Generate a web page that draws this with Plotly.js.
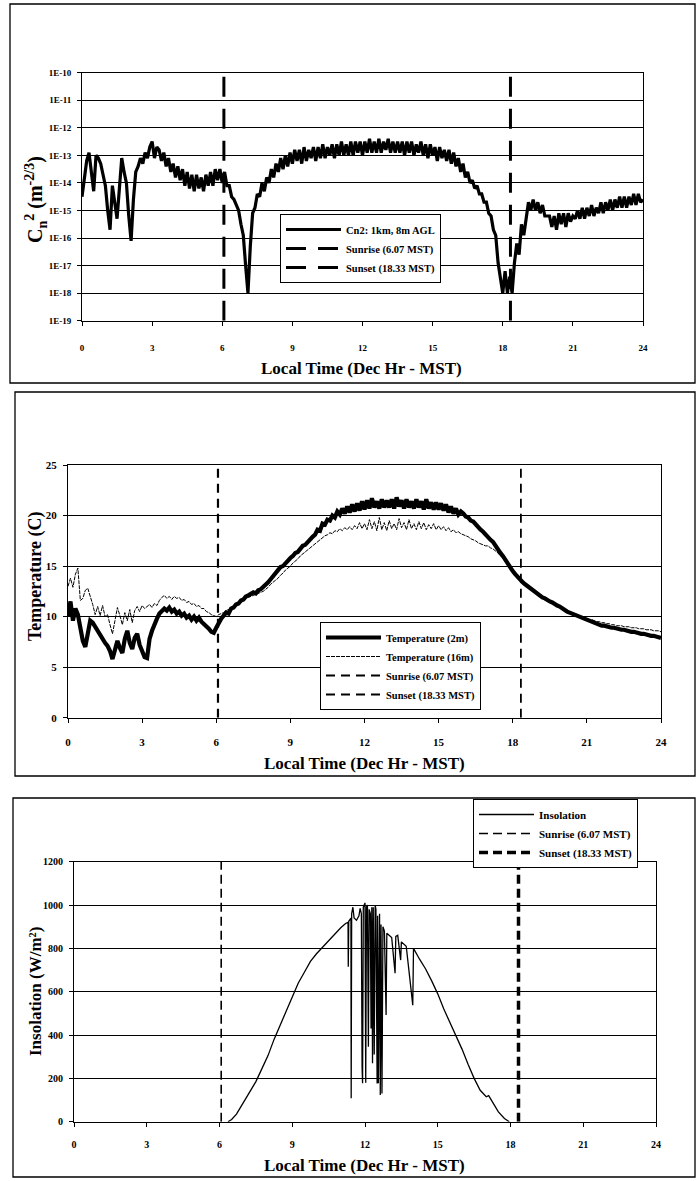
<!DOCTYPE html>
<html>
<head>
<meta charset="utf-8">
<script src="https://cdn.plot.ly/plotly-3.0.1.min.js"></script>
<style>html,body{margin:0;padding:0;background:#fff;}#chart{width:696px;height:1181px;}</style>
</head>
<body>
<div id="chart"></div>
<script>
// ---------- DATA ----------
const tickHours = [0, 3, 6, 9, 12, 15, 18, 21, 24];
const sunrise = 6.07;
const sunset = 18.33;
const timeStep = 0.1; // hours between samples of the 0..24 h series below

// Panel 1: Cn2 as log10 exponent (1E-x), every 0.1 h
const cn2Exp = [
-14.5,-13.8,-13.2,-12.9,-13.6,-14.3,-13.0,-13.1,-13.3,-13.7,
-14.1,-15.0,-15.7,-14.1,-14.8,-15.3,-14.2,-13.1,-13.6,-14.0,
-15.2,-16.1,-14.6,-13.6,-13.4,-13.1,-13.3,-12.9,-13.1,-12.7,
-12.5,-13.1,-12.7,-12.8,-13.2,-12.9,-13.4,-13.1,-13.6,-13.3,
-13.8,-13.4,-13.9,-13.5,-14.1,-13.6,-14.2,-13.7,-14.3,-13.7,
-14.2,-13.8,-14.3,-13.7,-14.1,-13.6,-14.1,-13.5,-13.9,-13.5,
-14.0,-13.6,-14.1,-14.1,-14.5,-14.6,-14.8,-15.0,-15.5,-15.9,
-17.0,-18.0,-16.3,-15.1,-14.9,-14.4,-14.5,-14.0,-14.3,-13.8,
-14.0,-13.5,-13.8,-13.3,-13.6,-13.1,-13.5,-13.0,-13.4,-12.9,
-13.3,-12.8,-13.2,-12.8,-13.3,-12.7,-13.2,-12.8,-13.1,-12.7,
-13.2,-12.7,-13.1,-12.6,-13.1,-12.7,-13.0,-12.6,-13.1,-12.6,
-13.0,-12.5,-13.0,-12.6,-13.0,-12.5,-13.0,-12.5,-12.9,-12.5,
-13.0,-12.5,-12.9,-12.4,-12.9,-12.5,-12.9,-12.4,-12.9,-12.5,
-12.8,-12.4,-12.9,-12.5,-12.9,-12.5,-12.9,-12.5,-13.0,-12.5,
-12.9,-12.5,-13.0,-12.6,-12.9,-12.5,-13.0,-12.6,-13.1,-12.6,
-13.0,-12.7,-13.2,-12.7,-13.1,-12.8,-13.2,-12.8,-13.3,-12.9,
-13.4,-13.1,-13.6,-13.3,-13.8,-13.6,-14.0,-13.9,-14.2,-14.1,
-14.4,-14.4,-14.7,-14.7,-15.1,-15.2,-15.7,-15.9,-16.9,-17.5,
-18.0,-17.2,-18.0,-17.4,-18.0,-16.9,-16.2,-16.6,-15.5,-15.9,
-15.2,-14.7,-15.0,-14.6,-15.0,-14.7,-15.1,-14.8,-15.2,-15.2,
-15.2,-15.6,-15.2,-15.7,-15.1,-15.5,-15.1,-15.6,-15.1,-15.4,
-15.2,-15.3,-15.0,-15.3,-14.9,-15.3,-14.9,-15.2,-14.8,-15.2,
-14.9,-15.1,-14.7,-15.1,-14.7,-15.0,-14.6,-15.0,-14.6,-14.9,
-14.5,-14.9,-14.5,-14.9,-14.5,-14.8,-14.4,-14.8,-14.4,-14.7,
-14.6];
const cn2TickVals = [-19, -18, -17, -16, -15, -14, -13, -12, -11, -10];
const cn2TickText = ["1E-19","1E-18","1E-17","1E-16","1E-15","1E-14","1E-13","1E-12","1E-11","1E-10"];

// Panel 2: temperature (C), every 0.1 h
const temp2m = [
10.0,11.5,9.6,10.8,10.2,8.8,7.6,7.0,8.2,9.6,
9.4,9.0,8.5,8.1,7.8,7.4,7.1,6.6,5.8,6.8,
7.6,6.9,6.4,7.8,8.6,7.4,6.8,7.9,8.3,7.2,
6.6,6.0,5.9,7.8,8.6,9.3,9.8,10.3,10.5,10.8,
10.6,10.9,10.5,10.7,10.3,10.5,10.1,10.3,9.9,10.1,
9.7,10.0,9.6,9.9,9.5,9.3,9.1,8.8,8.5,8.4,
8.9,9.4,9.8,10.1,10.4,10.3,10.8,10.9,11.2,11.3,
11.6,11.7,12.0,12.1,12.2,12.4,12.3,12.6,12.7,12.9,
13.2,13.4,13.7,14.0,14.2,14.6,14.9,15.0,15.3,15.6,
15.8,16.0,16.3,16.4,16.7,17.0,17.1,17.4,17.6,17.9,
18.1,18.6,18.5,19.2,19.1,19.6,19.5,20.0,19.8,20.4,
20.1,20.7,20.2,20.9,20.3,21.1,20.4,21.2,20.5,21.4,
20.6,21.5,20.7,21.7,20.8,21.4,20.7,21.6,20.8,21.5,
20.8,21.6,20.7,21.8,20.9,21.5,20.7,21.6,20.8,21.4,
20.7,21.6,20.8,21.4,20.6,21.6,20.7,21.3,20.6,21.3,
20.6,21.2,20.5,21.1,20.3,20.9,20.2,20.7,20.1,20.4,
20.2,19.9,19.8,19.5,19.4,19.1,18.9,18.6,18.4,18.1,
17.9,17.6,17.4,17.0,16.7,16.3,16.0,15.6,15.2,14.8,
14.5,14.2,13.9,13.6,13.4,13.2,13.0,12.8,12.6,12.4,
12.3,12.1,11.9,11.8,11.6,11.5,11.4,11.2,11.1,11.0,
10.8,10.7,10.5,10.4,10.3,10.2,10.0,9.9,9.8,9.7,
9.6,9.5,9.4,9.3,9.3,9.2,9.1,9.1,9.0,9.0,
8.9,8.9,8.8,8.8,8.7,8.7,8.6,8.6,8.5,8.5,
8.4,8.4,8.3,8.3,8.2,8.2,8.1,8.1,8.0,8.0,
7.9];
const temp16m = [
13.0,13.8,12.9,14.2,14.8,11.6,11.8,12.6,12.8,12.1,
11.2,10.2,11.0,10.1,11.1,10.0,10.2,9.2,8.3,9.6,
10.9,10.1,9.2,10.4,9.6,10.7,9.4,10.6,11.0,10.5,
11.1,10.8,11.0,11.2,10.9,11.3,11.1,11.6,11.9,12.1,
11.8,12.0,11.7,12.0,11.8,11.9,11.6,11.7,11.4,11.5,
11.2,11.3,11.0,11.1,10.8,10.8,10.5,10.4,10.2,10.1,
10.0,10.2,10.3,10.4,10.6,10.7,10.8,10.9,11.1,11.2,
11.4,11.6,11.8,11.9,12.0,12.1,12.2,12.3,12.4,12.5,
12.7,12.9,13.2,13.4,13.6,13.8,14.1,14.3,14.6,14.8,
15.0,15.3,15.5,15.7,16.0,16.2,16.4,16.6,16.8,17.0,
17.2,17.4,17.6,17.8,18.0,18.1,18.3,18.2,18.5,18.4,
18.7,18.5,18.8,18.6,18.9,18.6,19.0,18.7,19.3,18.7,
19.2,18.6,19.6,18.7,19.4,18.5,19.8,18.6,19.3,18.5,
19.5,18.7,19.2,18.6,19.7,18.8,19.3,18.6,19.6,18.7,
19.2,18.6,19.4,18.7,19.3,18.6,19.1,18.7,19.2,18.6,
19.0,18.6,18.9,18.5,18.8,18.4,18.6,18.3,18.4,18.2,
18.1,18.0,17.9,17.7,17.6,17.5,17.3,17.2,17.1,17.0,
17.0,16.8,16.7,16.5,16.3,16.0,15.8,15.4,15.1,14.8,
14.5,14.2,13.9,13.6,13.4,13.2,13.0,12.8,12.6,12.4,
12.3,12.1,11.9,11.8,11.6,11.5,11.4,11.2,11.1,11.0,
10.8,10.7,10.6,10.5,10.4,10.3,10.2,10.1,10.0,9.9,
9.8,9.7,9.7,9.6,9.5,9.5,9.4,9.4,9.3,9.3,
9.2,9.2,9.1,9.1,9.1,9.0,9.0,9.0,8.9,8.9,
8.9,8.8,8.8,8.8,8.7,8.7,8.7,8.6,8.6,8.6,
8.5];

// Panel 3: insolation (W/m2)
const insoHours = [6.35,6.5,6.7,7.0,7.25,7.5,7.75,8.0,8.25,8.5,8.75,9.0,9.25,9.5,9.75,10.0,10.25,10.5,10.75,11.0,11.2,11.3,11.31,11.33,11.42,11.43,11.45,11.5,11.55,11.65,11.75,11.8,11.85,11.88,11.9,11.93,12.0,12.03,12.06,12.1,12.14,12.17,12.22,12.25,12.28,12.31,12.34,12.38,12.42,12.45,12.5,12.52,12.55,12.6,12.63,12.66,12.7,12.74,12.8,12.87,12.9,13.0,13.1,13.24,13.27,13.35,13.47,13.5,13.7,13.97,14.0,14.25,14.5,14.75,15.0,15.25,15.5,15.75,16.0,16.25,16.5,16.75,17.0,17.1,17.25,17.5,17.75,17.95];
const insoValues = [0,10,35,90,140,185,245,305,380,445,515,580,640,690,740,775,805,840,865,895,915,920,715,925,940,108,960,990,940,930,950,985,960,250,177,990,1010,180,990,1000,346,980,960,430,990,270,990,310,1000,980,176,950,177,960,123,910,130,900,880,492,870,860,850,685,855,860,746,830,810,538,800,750,705,650,590,520,460,395,335,265,200,145,115,120,90,45,15,0];

// ---------- CHART ----------
const hours = cn2Exp.map((_, i) => +(i * timeStep).toFixed(1));
const W = 696, H = 1181;
const px = v => v / W, py = v => 1 - v / H;
const SERIF = 'Liberation Serif, Times New Roman, serif';
const bold = (size) => ({family: SERIF, size: size, color: 'black', weight: 'bold'});

const traces = [
  {x: hours, y: cn2Exp, type: 'scatter', mode: 'lines', name: 'Cn2: 1km, 8m AGL',
   line: {color: 'black', width: 3.2}, xaxis: 'x', yaxis: 'y', legend: 'legend', legendgroup: 'a'},
  {x: [sunrise, sunrise], y: [-19, -10], type: 'scatter', mode: 'lines', name: 'Sunrise (6.07 MST)',
   line: {color: 'black', width: 3, dash: '20px,12px'}, xaxis: 'x', yaxis: 'y', legend: 'legend', legendgroup: 'b'},
  {x: [sunset, sunset], y: [-19, -10], type: 'scatter', mode: 'lines', name: 'Sunset (18.33 MST)',
   line: {color: 'black', width: 3, dash: '20px,12px'}, xaxis: 'x', yaxis: 'y', legend: 'legend', legendgroup: 'c'},

  {x: hours, y: temp2m, type: 'scatter', mode: 'lines', name: 'Temperature (2m)',
   line: {color: 'black', width: 4.2}, xaxis: 'x2', yaxis: 'y2', legend: 'legend2', legendgroup: 'd'},
  {x: hours, y: temp16m, type: 'scatter', mode: 'lines', name: 'Temperature (16m)',
   line: {color: 'black', width: 1, dash: '4px,1px'}, xaxis: 'x2', yaxis: 'y2', legend: 'legend2', legendgroup: 'e'},
  {x: [sunrise, sunrise], y: [0, 25], type: 'scatter', mode: 'lines', name: 'Sunrise (6.07 MST)',
   line: {color: 'black', width: 2.2, dash: '9px,6px'}, xaxis: 'x2', yaxis: 'y2', legend: 'legend2', legendgroup: 'f'},
  {x: [sunset, sunset], y: [0, 25], type: 'scatter', mode: 'lines', name: 'Sunset (18.33 MST)',
   line: {color: 'black', width: 1.8, dash: '9px,6px'}, xaxis: 'x2', yaxis: 'y2', legend: 'legend2', legendgroup: 'g'},

  {x: insoHours, y: insoValues, type: 'scatter', mode: 'lines', name: 'Insolation',
   line: {color: 'black', width: 1.3}, xaxis: 'x3', yaxis: 'y3', legend: 'legend3', legendgroup: 'h'},
  {x: [sunrise, sunrise], y: [0, 1200], type: 'scatter', mode: 'lines', name: 'Sunrise (6.07 MST)',
   line: {color: 'black', width: 1.6, dash: '9px,5px'}, xaxis: 'x3', yaxis: 'y3', legend: 'legend3', legendgroup: 'i'},
  {x: [sunset, sunset], y: [0, 1200], type: 'scatter', mode: 'lines', name: 'Sunset (18.33 MST)',
   line: {color: 'black', width: 3.5, dash: '9px,5px'}, xaxis: 'x3', yaxis: 'y3', legend: 'legend3', legendgroup: 'j'}
];

const xBase = (dom, size, standoff, anchor) => ({
  domain: dom, range: [0, 24], tickvals: tickHours, ticktext: tickHours.map(String),
  showgrid: false, zeroline: false, showline: true, mirror: true, linecolor: 'black', linewidth: 1,
  ticks: 'outside', ticklen: 4, tickcolor: 'black', tickfont: bold(size), ticklabelstandoff: standoff,
  anchor: anchor, fixedrange: true
});
const yBase = (dom, size, anchor) => ({
  domain: dom, showgrid: true, gridcolor: 'black', gridwidth: 1, zeroline: false,
  showline: true, mirror: true, linecolor: 'black', linewidth: 1,
  ticks: 'outside', ticklen: 4, tickcolor: 'black', tickfont: bold(size), ticklabelstandoff: 4,
  anchor: anchor, fixedrange: true
});

const legendBase = (x, y, size) => ({
  x: x, y: y, xanchor: 'left', yanchor: 'top', bgcolor: 'white', bordercolor: 'black', borderwidth: 1,
  font: bold(size), itemwidth: 55, tracegroupgap: 0, orientation: 'v'
});

const titleAnn = (x, y, text, size, angle) => ({
  xref: 'paper', yref: 'paper', x: px(x), y: py(y), text: text, showarrow: false,
  xanchor: 'center', yanchor: 'middle', textangle: angle || 0, font: bold(size)
});

const box = (x0, y0, x1, y1) => ({
  type: 'rect', xref: 'paper', yref: 'paper', x0: px(x0), x1: px(x1), y0: py(y1), y1: py(y0),
  line: {color: 'black', width: 1.3}, fillcolor: 'rgba(0,0,0,0)', layer: 'below'
});

const layout = {
  width: W, height: H, margin: {l: 0, r: 0, t: 0, b: 0},
  paper_bgcolor: 'white', plot_bgcolor: 'white', showlegend: true, hovermode: false,
  xaxis: xBase([px(82), px(643)], 9, 14, 'y'),
  yaxis: Object.assign(yBase([py(320.7), py(72.7)], 9, 'x'), {range: [-19, -10], tickvals: cn2TickVals, ticktext: cn2TickText}),
  xaxis2: xBase([px(68), px(661)], 11, 10, 'y2'),
  yaxis2: Object.assign(yBase([py(717.7), py(465)], 11, 'x2'), {range: [0, 25], dtick: 5, tick0: 0}),
  xaxis3: xBase([px(74), px(656)], 10, 9, 'y3'),
  yaxis3: Object.assign(yBase([py(1121.7), py(861.7)], 10, 'x3'), {range: [0, 1200], dtick: 200, tick0: 0}),
  legend: legendBase(px(280), py(214), 10.5),
  legend2: legendBase(px(320), py(622), 10.5),
  legend3: legendBase(px(473), py(799), 11),
  annotations: [
    titleAnn(362, 368, 'Local Time (Dec Hr - MST)', 17),
    titleAnn(364, 763, 'Local Time (Dec Hr - MST)', 17),
    titleAnn(364, 1165, 'Local Time (Dec Hr - MST)', 17),
    titleAnn(36, 200, 'C<sub>n</sub><sup>2</sup> (m<sup>-2/3</sup>)', 20, -90),
    titleAnn(35, 577, 'Temperature (C)', 18, -90),
    titleAnn(35, 992, 'Insolation (W/m²)', 17, -90)
  ],
  shapes: [box(10, 4, 695, 383), box(15, 392, 695, 776), box(13, 798, 695, 1177)]
};

Plotly.newPlot('chart', traces, layout, {staticPlot: true, displayModeBar: false});
</script>
</body>
</html>
